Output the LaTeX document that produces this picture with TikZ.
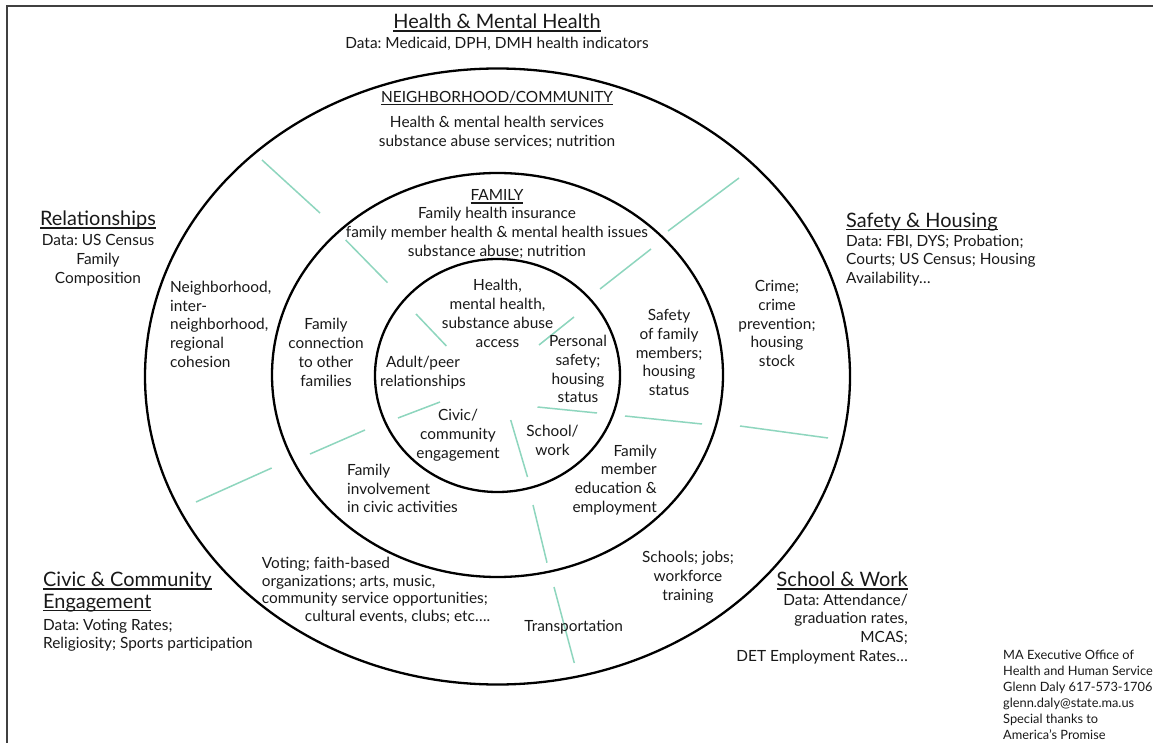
\documentclass[tikz,border=0pt]{standalone}
\usepackage{fontspec}
\setmainfont{Lato}
\definecolor{mint}{RGB}{142,214,190}
\newcommand{\myul}[1]{\setbox0\hbox{#1}\rlap{\rule[-3pt]{\wd0}{1.4pt}}\box0}
\frenchspacing
\begin{document}
\begin{tikzpicture}[x=1pt,y=-1pt,
  body/.style={font=\fontsize{15.4}{18.8}\selectfont, inner sep=0pt, text=black!90},
  ttl/.style={font=\fontsize{19.9}{21.5}\selectfont, inner sep=0pt, text=black!90},
  foot/.style={font=\fontsize{12.8}{16}\selectfont, inner sep=0pt, text=black!90},
  ring/.style={line width=2.3pt, black},
  spoke/.style={line width=1.5pt, mint}]
\useasboundingbox (0,0) rectangle (1153,743);
\fill[white] (0,0) rectangle (1153,743);
\draw[line width=1.8pt, black!75] (7,743) -- (7,6) -- (1153,6);
\coordinate (c) at (497.5,376.5);
\draw[ring] (c) ellipse [x radius=352.5pt, y radius=308pt];
\draw[ring] (497.5,375) ellipse [x radius=225.5pt, y radius=202pt];
\draw[ring] (497.5,375.5) ellipse [x radius=122.5pt, y radius=116.5pt];
% spokes
\draw[spoke] (262,160) -- (320,213);
\draw[spoke] (345.7,240) -- (387.5,282.7);
\draw[spoke] (416,314) -- (446.4,346);
\draw[spoke] (668,231) -- (739,178);
\draw[spoke] (600,289) -- (651,249);
\draw[spoke] (539,345) -- (574,317);
\draw[spoke] (537.5,407) -- (597,413);
\draw[spoke] (625,416) -- (702,424);
\draw[spoke] (740,426) -- (828,438);
\draw[spoke] (510.7,420) -- (527.5,477);
\draw[spoke] (533,505) -- (547,562.7);
\draw[spoke] (554,587) -- (574.3,663);
\draw[spoke] (440,402) -- (398,418);
\draw[spoke] (365,430) -- (310,454);
\draw[spoke] (271.7,468) -- (196,502);
% outside texts
\node[ttl] (hmh) at (497,23) {\myul{Health \& Mental Health}};
\node[body] (hmhd) at (497,44) {Data: Medicaid, DPH, DMH health indicators};
\node[ttl] (rel) at (98,220) {\myul{Relationships}};
\node[body, align=center] (reld) at (98,260) {Data: US Census\\Family\\Composition};
\node[ttl, anchor=west] (saf) at (846,222) {\myul{Safety \& Housing}};
\node[body, align=left, anchor=west] (safd) at (846,260.5) {Data: FBI, DYS; Probation;\\Courts; US Census; Housing\\Availability\ldots};
\node[ttl, align=left, anchor=west] (civ) at (43,592) {\myul{Civic \& Community}\\\myul{Engagement}};
\node[body, align=left, anchor=west, font=\fontsize{15.4}{17.5}\selectfont] (civd) at (43,635.5) {Data: Voting Rates;\\Religiosity; Sports participation};
\node[ttl, anchor=east] (sch) at (908,581) {\myul{School \& Work}};
\node[body, align=right, anchor=east] (schd) at (908,629) {Data: Attendance/\\graduation rates,\\MCAS;\\DET Employment Rates\ldots};
\node[foot, align=left, anchor=west] (ft) at (1003,695) {MA Executive Office of\\Health and Human Service\\Glenn Daly 617-573-1706\\glenn.daly@state.ma.us\\Special thanks to\\America’s Promise};
% ring texts
\node[body] (nc) at (497,98) {\myul{NEIGHBORHOOD/COMMUNITY}};
\node[body, align=center] (ncd) at (497,132.5) {Health \& mental health services\\substance abuse services; nutrition};
\node[body] (fam) at (497,196.7) {\myul{FAMILY}};
\node[body, align=center] (famd) at (497,233) {Family health insurance\\family member health \& mental health issues\\substance abuse; nutrition};
\node[body, align=center] (hl) at (497.5,313.3) {Health,\\mental health,\\substance abuse\\access};
\node[body, align=center] (ps) at (578,369) {Personal\\safety;\\housing\\status};
\node[body, align=center] (ap) at (423,373) {Adult/peer\\relationships};
\node[body, align=center] (fc) at (326,352.5) {Family\\connection\\to other\\families};
\node[body, align=center] (sf) at (669,352.5) {Safety\\of family\\members;\\housing\\status};
\node[body, align=center] (cr) at (777,323.6) {Crime;\\crime\\prevention;\\housing\\stock};
\node[body, align=left, anchor=west] (nb) at (170,324.3) {Neighborhood,\\inter-\\neighborhood,\\regional\\cohesion};
\node[body, align=center] (ce) at (458,435.5) {Civic/\\community\\engagement};
\node[body, align=center] (sw) at (552.5,440) {School/\\work};
\node[body, align=right, anchor=east] (fm) at (657,480) {Family\\member\\education \&\\employment};
\node[body, align=left, anchor=west] (fi) at (347,488.5) {Family\\involvement\\in civic activities};
\node[body, align=left, anchor=west, font=\fontsize{15.4}{17.7}\selectfont] (vo) at (261.7,590.5) {Voting; faith-based\\organizations; arts, music,\\community service opportunities;\\\hspace*{43pt}cultural events, clubs; etc\ldots.};
\node[body, align=center] (sj) at (688,577) {Schools; jobs;\\workforce\\training};
\node[body] (tr) at (573.7,627) {Transportation};
\end{tikzpicture}
\end{document}
